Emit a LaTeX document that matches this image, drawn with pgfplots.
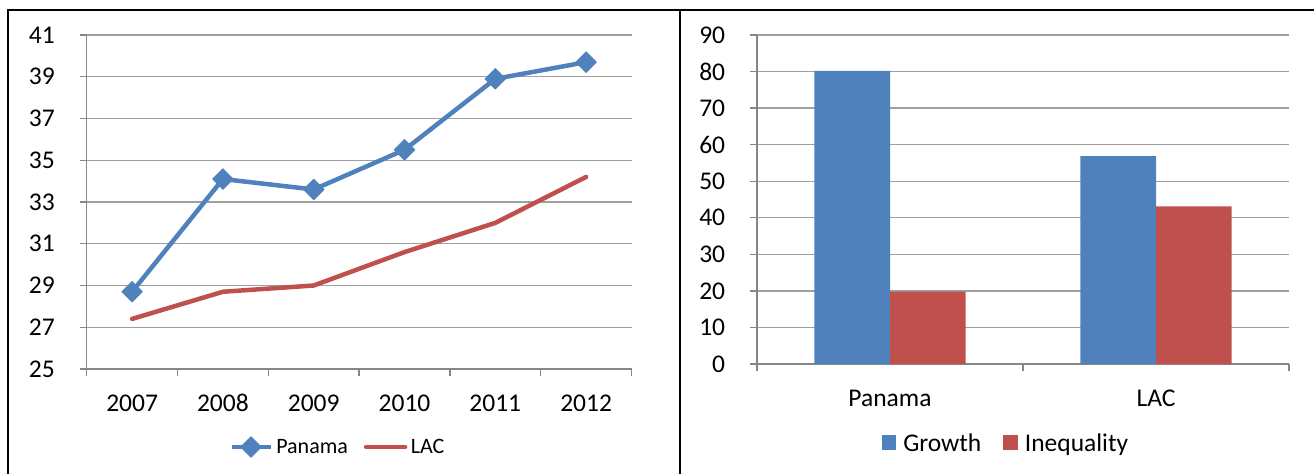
\documentclass[border=0pt]{standalone}
\usepackage{fontspec}
\setmainfont{Carlito}
\usepackage{pgfplots}
\pgfplotsset{compat=1.18}
\definecolor{xblue}{HTML}{4F81BD}
\definecolor{xred}{HTML}{C0504D}
\definecolor{gridc}{HTML}{A0A0A0}
\definecolor{axc}{HTML}{868686}
\pgfplotsset{
 excel/.style={
  scale only axis,
  axis x line*=bottom, axis y line*=left,
  axis line style={axc, line width=1.3pt, -},
  ymajorgrids, major grid style={gridc, line width=1.3pt},
  tick align=outside, major tick length=7pt,
  tick style={axc, line width=1.3pt},
  tick label style={font=\fontsize{25.5}{30}\selectfont, inner sep=0pt},
  /pgf/number format/assume math mode=true,
  yticklabel style={anchor=east, xshift=-24.7pt},
  xticklabel style={anchor=north, yshift=-19pt, text height=16.5pt, text depth=5pt},
  x tick label as interval,
  legend style={draw=none, fill=none, legend columns=2, anchor=center, nodes={inner sep=2pt}},
  clip=false,
 }
}
\begin{document}
\begin{tikzpicture}
\path[use as bounding box] (0pt,0pt) rectangle (1314pt,-474pt);
\draw[line width=2pt] (8pt,-474pt) -- (8pt,-10pt) -- (1314pt,-10pt);
\draw[line width=2pt] (680pt,-10pt) -- (680pt,-474pt);

\begin{axis}[excel,
  at={(86.7pt,-369pt)}, anchor=south west,
  width=544.8pt, height=334pt,
  xmin=-0.5, xmax=5.5, ymin=25, ymax=41,
  ytick={25,27,...,41},
  xtick={-0.5,0.5,...,5.5},
  xticklabels={2007,2008,2009,2010,2011,2012},
  legend style={at={(axis description cs:0.461,-0.2335)}, font=\fontsize{22}{26}\selectfont,
    /tikz/every even column/.append style={column sep=14pt},
    /tikz/every odd column/.append style={column sep=1.5pt}},
  legend image code/.code={\draw[mark repeat=2,mark phase=2,#1] plot coordinates {(0pt,0pt) (19.5pt,0pt) (39pt,0pt)};},
]
\addplot[xblue, line width=4.5pt, line join=round, mark=square*, mark size=7.4pt,
  mark options={solid, rotate=45, line width=0.5pt, fill=xblue}]
  coordinates {(0,28.7) (1,34.1) (2,33.6) (3,35.5) (4,38.9) (5,39.7)};
\addlegendentry{Panama}
\addplot[xred, line width=4.5pt, line join=round, line cap=round]
  coordinates {(0,27.4) (1,28.7) (2,29.0) (3,30.6) (4,32.0) (5,34.2)};
\addlegendentry{LAC}
\end{axis}

\begin{axis}[excel,
  at={(757pt,-364pt)}, anchor=south west,
  width=532pt, height=329pt,
  xmin=-0.5, xmax=1.5, ymin=0, ymax=90,
  ytick={0,10,...,90},
  xtick={-0.5,0.5,1.5},
  xticklabels={Panama,LAC},
  ybar=0pt, bar width=75.7pt,
  legend style={at={(axis description cs:0.468,-0.240)}, font=\fontsize{25.5}{30}\selectfont,
    /tikz/every even column/.append style={column sep=20pt},
    /tikz/every odd column/.append style={column sep=5pt}},
  legend image code/.code={\fill[#1] (0pt,-7pt) rectangle (14.5pt,7.5pt);},
]
\addplot[fill=xblue, draw=none] coordinates {(0,80.2) (1,56.9)};
\addlegendentry{Growth}
\addplot[fill=xred, draw=none] coordinates {(0,19.8) (1,43.1)};
\addlegendentry{Inequality}
\end{axis}
\end{tikzpicture}
\end{document}
